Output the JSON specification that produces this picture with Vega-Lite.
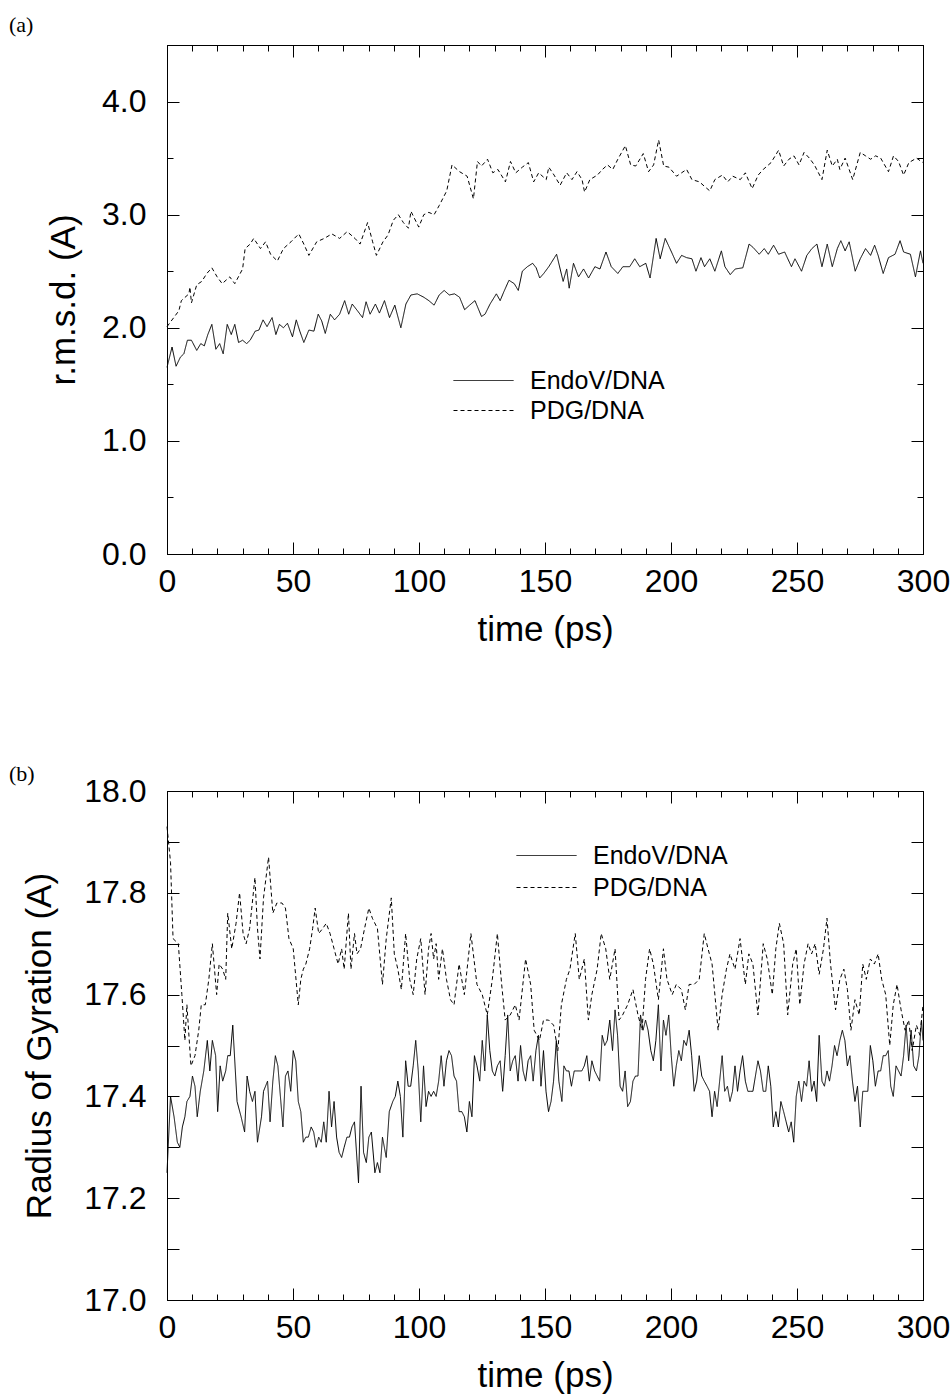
{
  "$schema": "https://vega.github.io/schema/vega-lite/v6.json",
  "padding": {"left": 8, "top": 13, "right": 0, "bottom": 0},
  "background": "white",
  "config": {
    "font": "Liberation Sans",
    "view": {"stroke": "black", "strokeWidth": 1},
    "axis": {
      "grid": false, "domainColor": "black", "tickColor": "black", "labelColor": "black", "titleColor": "black",
      "labelFont": "Liberation Sans", "titleFont": "Liberation Sans", "labelFontSize": 32, "titleFontSize": 35,
      "titleFontWeight": "normal", "domainWidth": 1, "tickWidth": 1, "labelFlush": false, "labelOverlap": false
    },
    "legend": {
      "orient": "none", "title": null, "symbolType": "M-2.5,0L2.5,0", "symbolSize": 576, "symbolStrokeWidth": 1,
      "symbolStrokeColor": "black", "symbolFillColor": "transparent", "labelFontSize": 25, "labelFont": "Liberation Sans",
      "labelColor": "black", "labelOffset": 34, "padding": 0
    }
  },
  "datasets": {
    "a_endo": [{"t":0,"v":1.65},{"t":2.0,"v":1.83},{"t":3.6,"v":1.66},{"t":5.3,"v":1.74},{"t":6.7,"v":1.77},{"t":8.1,"v":1.89},{"t":9.7,"v":1.89},{"t":11.8,"v":1.80},{"t":13.4,"v":1.86},{"t":14.8,"v":1.84},{"t":16.2,"v":1.94},{"t":17.8,"v":2.03},{"t":19.4,"v":1.81},{"t":20.9,"v":1.86},{"t":22.3,"v":1.77},{"t":23.9,"v":2.03},{"t":25.5,"v":1.94},{"t":26.9,"v":2.03},{"t":28.4,"v":1.87},{"t":30.0,"v":1.89},{"t":31.6,"v":1.86},{"t":33.0,"v":1.89},{"t":35.0,"v":1.97},{"t":36.5,"v":1.98},{"t":38.1,"v":2.07},{"t":39.7,"v":2.01},{"t":41.7,"v":2.09},{"t":43.2,"v":1.94},{"t":44.6,"v":2.03},{"t":46.2,"v":2.00},{"t":47.8,"v":2.04},{"t":49.8,"v":1.92},{"t":51.3,"v":2.07},{"t":52.7,"v":1.97},{"t":54.3,"v":1.87},{"t":56.3,"v":1.98},{"t":58.3,"v":1.97},{"t":60.0,"v":2.12},{"t":61.4,"v":2.06},{"t":62.8,"v":1.95},{"t":64.8,"v":2.12},{"t":66.5,"v":2.07},{"t":68.5,"v":2.12},{"t":70.5,"v":2.24},{"t":72.1,"v":2.12},{"t":73.5,"v":2.21},{"t":75.6,"v":2.15},{"t":77.6,"v":2.09},{"t":79.0,"v":2.23},{"t":80.6,"v":2.12},{"t":82.7,"v":2.21},{"t":84.3,"v":2.13},{"t":86.3,"v":2.24},{"t":88.3,"v":2.09},{"t":90.4,"v":2.20},{"t":92.8,"v":2.00},{"t":94.8,"v":2.21},{"t":96.8,"v":2.29},{"t":99.3,"v":2.30},{"t":101.9,"v":2.27},{"t":103.9,"v":2.24},{"t":106.0,"v":2.20},{"t":108.0,"v":2.29},{"t":110.0,"v":2.33},{"t":112.0,"v":2.29},{"t":114.1,"v":2.30},{"t":116.1,"v":2.27},{"t":118.1,"v":2.16},{"t":120.1,"v":2.20},{"t":122.2,"v":2.24},{"t":124.8,"v":2.10},{"t":126.2,"v":2.12},{"t":128.2,"v":2.21},{"t":130.7,"v":2.30},{"t":132.2,"v":2.24},{"t":133.7,"v":2.32},{"t":135.7,"v":2.42},{"t":137.8,"v":2.39},{"t":139.4,"v":2.33},{"t":141.0,"v":2.50},{"t":143.0,"v":2.54},{"t":145.1,"v":2.57},{"t":146.5,"v":2.53},{"t":147.9,"v":2.44},{"t":149.5,"v":2.48},{"t":151.5,"v":2.54},{"t":154.6,"v":2.65},{"t":157.2,"v":2.41},{"t":158.6,"v":2.52},{"t":159.6,"v":2.35},{"t":161.3,"v":2.57},{"t":163.3,"v":2.45},{"t":165.3,"v":2.52},{"t":167.3,"v":2.44},{"t":169.8,"v":2.54},{"t":171.8,"v":2.52},{"t":174.2,"v":2.67},{"t":176.3,"v":2.54},{"t":178.9,"v":2.48},{"t":180.9,"v":2.54},{"t":183.6,"v":2.54},{"t":185.6,"v":2.61},{"t":187.6,"v":2.54},{"t":190.0,"v":2.57},{"t":191.7,"v":2.44},{"t":194.1,"v":2.79},{"t":195.7,"v":2.61},{"t":197.7,"v":2.79},{"t":200.2,"v":2.67},{"t":202.2,"v":2.57},{"t":204.2,"v":2.64},{"t":206.2,"v":2.62},{"t":208.3,"v":2.61},{"t":209.9,"v":2.50},{"t":211.9,"v":2.62},{"t":213.3,"v":2.54},{"t":215.4,"v":2.61},{"t":217.4,"v":2.50},{"t":220.0,"v":2.68},{"t":221.4,"v":2.54},{"t":223.5,"v":2.47},{"t":225.5,"v":2.52},{"t":228.5,"v":2.53},{"t":231.0,"v":2.74},{"t":232.6,"v":2.71},{"t":235.0,"v":2.65},{"t":237.0,"v":2.70},{"t":238.6,"v":2.65},{"t":240.7,"v":2.73},{"t":242.7,"v":2.65},{"t":245.1,"v":2.67},{"t":247.8,"v":2.54},{"t":249.2,"v":2.61},{"t":251.8,"v":2.50},{"t":253.9,"v":2.64},{"t":255.9,"v":2.70},{"t":257.9,"v":2.74},{"t":259.9,"v":2.54},{"t":262.0,"v":2.74},{"t":264.0,"v":2.54},{"t":266.0,"v":2.70},{"t":267.4,"v":2.77},{"t":269.1,"v":2.68},{"t":270.7,"v":2.76},{"t":273.1,"v":2.50},{"t":275.1,"v":2.61},{"t":277.2,"v":2.70},{"t":279.2,"v":2.64},{"t":280.8,"v":2.73},{"t":282.2,"v":2.64},{"t":284.2,"v":2.48},{"t":286.3,"v":2.62},{"t":288.9,"v":2.65},{"t":290.9,"v":2.77},{"t":292.3,"v":2.67},{"t":295.0,"v":2.65},{"t":297.0,"v":2.45},{"t":299.0,"v":2.68},{"t":300,"v":2.57}],
    "a_pdg": [{"t":0,"v":2.01},{"t":4.7,"v":2.15},{"t":5.7,"v":2.24},{"t":8.7,"v":2.30},{"t":9.1,"v":2.36},{"t":9.7,"v":2.22},{"t":11.8,"v":2.38},{"t":13.8,"v":2.41},{"t":15.8,"v":2.48},{"t":17.8,"v":2.53},{"t":19.9,"v":2.45},{"t":21.9,"v":2.39},{"t":24.9,"v":2.45},{"t":26.9,"v":2.39},{"t":30.0,"v":2.52},{"t":31.0,"v":2.70},{"t":33.0,"v":2.74},{"t":34.4,"v":2.79},{"t":37.1,"v":2.70},{"t":39.1,"v":2.76},{"t":41.1,"v":2.65},{"t":43.8,"v":2.59},{"t":46.2,"v":2.70},{"t":49.2,"v":2.76},{"t":52.3,"v":2.83},{"t":54.3,"v":2.74},{"t":56.3,"v":2.64},{"t":59.4,"v":2.76},{"t":62.4,"v":2.79},{"t":65.4,"v":2.83},{"t":68.5,"v":2.79},{"t":71.5,"v":2.85},{"t":74.6,"v":2.79},{"t":76.6,"v":2.74},{"t":79.6,"v":2.93},{"t":81.6,"v":2.76},{"t":83.1,"v":2.64},{"t":85.7,"v":2.76},{"t":87.7,"v":2.82},{"t":89.8,"v":2.95},{"t":91.8,"v":3.00},{"t":93.8,"v":2.93},{"t":95.8,"v":2.88},{"t":96.8,"v":3.03},{"t":99.9,"v":2.89},{"t":101.9,"v":3.00},{"t":103.9,"v":3.02},{"t":106.0,"v":3.00},{"t":108.0,"v":3.08},{"t":111.0,"v":3.21},{"t":113.1,"v":3.44},{"t":116.1,"v":3.38},{"t":119.1,"v":3.34},{"t":121.6,"v":3.14},{"t":123.2,"v":3.47},{"t":124.8,"v":3.43},{"t":127.2,"v":3.49},{"t":129.3,"v":3.37},{"t":131.3,"v":3.40},{"t":134.3,"v":3.29},{"t":136.3,"v":3.47},{"t":138.4,"v":3.37},{"t":141.0,"v":3.42},{"t":143.4,"v":3.46},{"t":145.5,"v":3.29},{"t":147.5,"v":3.37},{"t":150.5,"v":3.31},{"t":151.5,"v":3.42},{"t":153.6,"v":3.35},{"t":156.0,"v":3.26},{"t":158.6,"v":3.37},{"t":160.7,"v":3.31},{"t":162.7,"v":3.38},{"t":164.7,"v":3.31},{"t":165.7,"v":3.20},{"t":167.8,"v":3.31},{"t":170.8,"v":3.35},{"t":172.8,"v":3.40},{"t":174.8,"v":3.44},{"t":176.9,"v":3.40},{"t":178.9,"v":3.49},{"t":181.9,"v":3.61},{"t":184.0,"v":3.44},{"t":186.0,"v":3.43},{"t":189.0,"v":3.54},{"t":191.1,"v":3.38},{"t":193.1,"v":3.44},{"t":195.1,"v":3.66},{"t":197.1,"v":3.43},{"t":199.2,"v":3.42},{"t":202.2,"v":3.34},{"t":204.2,"v":3.37},{"t":206.2,"v":3.40},{"t":208.3,"v":3.31},{"t":211.3,"v":3.29},{"t":213.3,"v":3.25},{"t":215.4,"v":3.21},{"t":217.4,"v":3.31},{"t":220.4,"v":3.35},{"t":222.5,"v":3.29},{"t":224.5,"v":3.34},{"t":227.5,"v":3.31},{"t":229.5,"v":3.37},{"t":232.2,"v":3.23},{"t":234.6,"v":3.35},{"t":236.6,"v":3.40},{"t":239.7,"v":3.46},{"t":242.7,"v":3.57},{"t":244.7,"v":3.43},{"t":246.8,"v":3.49},{"t":248.8,"v":3.52},{"t":250.8,"v":3.44},{"t":252.8,"v":3.55},{"t":254.9,"v":3.50},{"t":256.9,"v":3.44},{"t":259.9,"v":3.31},{"t":262.0,"v":3.57},{"t":264.0,"v":3.43},{"t":266.0,"v":3.49},{"t":267.0,"v":3.40},{"t":269.1,"v":3.50},{"t":272.1,"v":3.31},{"t":275.1,"v":3.55},{"t":277.2,"v":3.52},{"t":279.2,"v":3.49},{"t":281.2,"v":3.52},{"t":283.2,"v":3.50},{"t":286.3,"v":3.38},{"t":288.3,"v":3.52},{"t":290.3,"v":3.47},{"t":292.3,"v":3.35},{"t":294.4,"v":3.46},{"t":297.4,"v":3.50},{"t":300,"v":3.46}],
    "b_endo": [{"t":0,"v":17.25},{"t":1.4,"v":17.40},{"t":2.8,"v":17.36},{"t":4.1,"v":17.31},{"t":5.1,"v":17.30},{"t":6.1,"v":17.34},{"t":7.1,"v":17.36},{"t":7.9,"v":17.39},{"t":9.1,"v":17.40},{"t":10.1,"v":17.44},{"t":11.1,"v":17.42},{"t":12.0,"v":17.36},{"t":13.2,"v":17.41},{"t":14.6,"v":17.45},{"t":16.0,"v":17.51},{"t":17.0,"v":17.45},{"t":18.0,"v":17.51},{"t":19.3,"v":17.48},{"t":20.1,"v":17.37},{"t":21.1,"v":17.46},{"t":22.1,"v":17.43},{"t":23.3,"v":17.45},{"t":24.1,"v":17.48},{"t":25.1,"v":17.48},{"t":26.1,"v":17.54},{"t":27.8,"v":17.39},{"t":29.4,"v":17.36},{"t":30.8,"v":17.33},{"t":31.8,"v":17.44},{"t":32.8,"v":17.41},{"t":33.9,"v":17.39},{"t":34.9,"v":17.41},{"t":35.9,"v":17.31},{"t":37.5,"v":17.36},{"t":38.3,"v":17.41},{"t":39.9,"v":17.43},{"t":40.9,"v":17.35},{"t":42.0,"v":17.43},{"t":43.0,"v":17.48},{"t":44.0,"v":17.46},{"t":45.0,"v":17.40},{"t":46.0,"v":17.34},{"t":47.0,"v":17.44},{"t":48.0,"v":17.45},{"t":49.1,"v":17.41},{"t":50.1,"v":17.49},{"t":51.1,"v":17.47},{"t":52.1,"v":17.39},{"t":53.1,"v":17.37},{"t":54.1,"v":17.31},{"t":55.1,"v":17.32},{"t":56.1,"v":17.32},{"t":57.2,"v":17.34},{"t":58.2,"v":17.33},{"t":59.2,"v":17.30},{"t":60.2,"v":17.32},{"t":61.2,"v":17.31},{"t":62.2,"v":17.35},{"t":63.2,"v":17.31},{"t":64.3,"v":17.41},{"t":65.3,"v":17.34},{"t":66.3,"v":17.39},{"t":67.3,"v":17.32},{"t":68.3,"v":17.29},{"t":69.3,"v":17.28},{"t":70.3,"v":17.30},{"t":71.4,"v":17.32},{"t":72.4,"v":17.32},{"t":73.4,"v":17.34},{"t":74.4,"v":17.35},{"t":76.0,"v":17.23},{"t":77.0,"v":17.42},{"t":78.0,"v":17.29},{"t":79.1,"v":17.27},{"t":80.1,"v":17.32},{"t":81.1,"v":17.33},{"t":82.5,"v":17.25},{"t":83.5,"v":17.27},{"t":84.5,"v":17.25},{"t":85.5,"v":17.32},{"t":87.0,"v":17.28},{"t":88.2,"v":17.37},{"t":89.6,"v":17.39},{"t":90.6,"v":17.40},{"t":91.6,"v":17.43},{"t":92.6,"v":17.40},{"t":93.6,"v":17.32},{"t":94.7,"v":17.47},{"t":95.7,"v":17.42},{"t":96.7,"v":17.42},{"t":97.7,"v":17.46},{"t":98.7,"v":17.51},{"t":99.7,"v":17.45},{"t":100.7,"v":17.35},{"t":101.8,"v":17.46},{"t":102.8,"v":17.38},{"t":103.8,"v":17.41},{"t":104.8,"v":17.40},{"t":105.8,"v":17.41},{"t":106.8,"v":17.40},{"t":107.8,"v":17.43},{"t":108.8,"v":17.48},{"t":109.9,"v":17.42},{"t":110.9,"v":17.47},{"t":111.9,"v":17.49},{"t":112.9,"v":17.48},{"t":113.9,"v":17.44},{"t":114.9,"v":17.43},{"t":115.9,"v":17.37},{"t":117.0,"v":17.37},{"t":118.0,"v":17.36},{"t":119.0,"v":17.33},{"t":120.0,"v":17.39},{"t":121.0,"v":17.36},{"t":122.0,"v":17.48},{"t":123.0,"v":17.46},{"t":124.1,"v":17.43},{"t":125.1,"v":17.51},{"t":126.1,"v":17.45},{"t":127.1,"v":17.56},{"t":128.1,"v":17.49},{"t":129.1,"v":17.45},{"t":130.1,"v":17.44},{"t":131.1,"v":17.46},{"t":132.2,"v":17.47},{"t":133.2,"v":17.41},{"t":134.2,"v":17.48},{"t":135.2,"v":17.56},{"t":136.2,"v":17.45},{"t":137.2,"v":17.47},{"t":138.2,"v":17.48},{"t":139.3,"v":17.43},{"t":140.3,"v":17.50},{"t":141.3,"v":17.45},{"t":142.3,"v":17.43},{"t":143.3,"v":17.47},{"t":144.3,"v":17.48},{"t":145.3,"v":17.43},{"t":146.4,"v":17.49},{"t":147.4,"v":17.52},{"t":148.4,"v":17.42},{"t":149.4,"v":17.49},{"t":150.4,"v":17.41},{"t":151.4,"v":17.37},{"t":152.4,"v":17.39},{"t":153.4,"v":17.43},{"t":154.5,"v":17.51},{"t":155.5,"v":17.43},{"t":156.7,"v":17.39},{"t":157.5,"v":17.46},{"t":158.5,"v":17.45},{"t":159.5,"v":17.45},{"t":160.5,"v":17.42},{"t":161.6,"v":17.45},{"t":162.6,"v":17.45},{"t":163.6,"v":17.45},{"t":164.6,"v":17.45},{"t":165.6,"v":17.46},{"t":166.6,"v":17.48},{"t":167.6,"v":17.43},{"t":168.6,"v":17.47},{"t":169.7,"v":17.45},{"t":170.7,"v":17.44},{"t":171.7,"v":17.43},{"t":172.7,"v":17.52},{"t":173.7,"v":17.50},{"t":174.7,"v":17.51},{"t":175.7,"v":17.55},{"t":176.8,"v":17.49},{"t":177.8,"v":17.57},{"t":178.8,"v":17.52},{"t":179.8,"v":17.42},{"t":180.8,"v":17.41},{"t":181.8,"v":17.45},{"t":182.8,"v":17.38},{"t":183.9,"v":17.39},{"t":184.9,"v":17.43},{"t":185.9,"v":17.44},{"t":186.9,"v":17.44},{"t":187.9,"v":17.56},{"t":188.9,"v":17.53},{"t":189.9,"v":17.55},{"t":190.9,"v":17.53},{"t":192.0,"v":17.49},{"t":193.0,"v":17.47},{"t":194.0,"v":17.51},{"t":195.0,"v":17.58},{"t":196.0,"v":17.45},{"t":197.0,"v":17.55},{"t":198.0,"v":17.52},{"t":199.1,"v":17.56},{"t":200.1,"v":17.48},{"t":201.1,"v":17.42},{"t":202.1,"v":17.46},{"t":203.1,"v":17.49},{"t":204.1,"v":17.47},{"t":205.1,"v":17.51},{"t":206.1,"v":17.50},{"t":207.2,"v":17.53},{"t":208.2,"v":17.48},{"t":209.2,"v":17.41},{"t":210.2,"v":17.43},{"t":211.2,"v":17.48},{"t":212.2,"v":17.44},{"t":213.2,"v":17.43},{"t":214.3,"v":17.42},{"t":215.3,"v":17.41},{"t":216.3,"v":17.36},{"t":217.3,"v":17.41},{"t":218.3,"v":17.38},{"t":219.3,"v":17.43},{"t":220.3,"v":17.48},{"t":221.3,"v":17.41},{"t":222.4,"v":17.42},{"t":223.4,"v":17.39},{"t":224.4,"v":17.41},{"t":225.4,"v":17.46},{"t":226.4,"v":17.41},{"t":227.4,"v":17.45},{"t":228.4,"v":17.48},{"t":229.5,"v":17.43},{"t":230.5,"v":17.41},{"t":231.5,"v":17.41},{"t":232.5,"v":17.41},{"t":233.5,"v":17.44},{"t":234.5,"v":17.47},{"t":235.5,"v":17.45},{"t":236.6,"v":17.41},{"t":237.6,"v":17.41},{"t":238.6,"v":17.46},{"t":239.6,"v":17.42},{"t":240.6,"v":17.34},{"t":241.6,"v":17.37},{"t":242.6,"v":17.34},{"t":243.6,"v":17.39},{"t":244.7,"v":17.37},{"t":245.7,"v":17.35},{"t":246.7,"v":17.33},{"t":247.7,"v":17.35},{"t":248.7,"v":17.31},{"t":249.7,"v":17.40},{"t":250.7,"v":17.43},{"t":251.8,"v":17.39},{"t":252.8,"v":17.43},{"t":253.8,"v":17.42},{"t":254.8,"v":17.47},{"t":255.8,"v":17.41},{"t":256.8,"v":17.43},{"t":257.8,"v":17.39},{"t":258.8,"v":17.52},{"t":259.9,"v":17.43},{"t":260.9,"v":17.42},{"t":261.9,"v":17.45},{"t":262.9,"v":17.43},{"t":263.9,"v":17.46},{"t":264.9,"v":17.50},{"t":265.9,"v":17.48},{"t":267.0,"v":17.51},{"t":268.0,"v":17.53},{"t":269.0,"v":17.51},{"t":270.0,"v":17.46},{"t":271.0,"v":17.48},{"t":272.0,"v":17.43},{"t":273.0,"v":17.39},{"t":274.0,"v":17.42},{"t":275.1,"v":17.34},{"t":276.1,"v":17.41},{"t":277.1,"v":17.41},{"t":278.1,"v":17.41},{"t":279.1,"v":17.50},{"t":280.1,"v":17.47},{"t":281.1,"v":17.42},{"t":282.2,"v":17.45},{"t":283.2,"v":17.45},{"t":284.2,"v":17.48},{"t":285.2,"v":17.48},{"t":286.2,"v":17.49},{"t":287.2,"v":17.42},{"t":288.2,"v":17.40},{"t":289.3,"v":17.46},{"t":290.3,"v":17.45},{"t":291.3,"v":17.44},{"t":292.3,"v":17.48},{"t":293.3,"v":17.54},{"t":294.3,"v":17.47},{"t":295.3,"v":17.53},{"t":296.3,"v":17.46},{"t":297.4,"v":17.45},{"t":298.4,"v":17.48},{"t":299.4,"v":17.55},{"t":300,"v":17.51}],
    "b_pdg": [{"t":0,"v":17.93},{"t":1.4,"v":17.86},{"t":2.4,"v":17.71},{"t":4.5,"v":17.70},{"t":5.9,"v":17.60},{"t":7.1,"v":17.51},{"t":7.9,"v":17.58},{"t":9.5,"v":17.46},{"t":11.1,"v":17.48},{"t":12.6,"v":17.53},{"t":13.6,"v":17.58},{"t":15.2,"v":17.58},{"t":16.6,"v":17.63},{"t":18.0,"v":17.70},{"t":19.7,"v":17.60},{"t":20.7,"v":17.66},{"t":22.1,"v":17.65},{"t":23.3,"v":17.63},{"t":24.1,"v":17.76},{"t":25.7,"v":17.69},{"t":27.4,"v":17.74},{"t":28.8,"v":17.80},{"t":30.2,"v":17.72},{"t":31.4,"v":17.70},{"t":32.8,"v":17.73},{"t":34.9,"v":17.83},{"t":35.9,"v":17.73},{"t":36.9,"v":17.67},{"t":38.3,"v":17.79},{"t":40.3,"v":17.87},{"t":42.0,"v":17.76},{"t":43.6,"v":17.78},{"t":45.6,"v":17.78},{"t":47.0,"v":17.77},{"t":48.4,"v":17.71},{"t":50.1,"v":17.69},{"t":52.1,"v":17.58},{"t":53.1,"v":17.63},{"t":54.1,"v":17.65},{"t":55.1,"v":17.66},{"t":56.6,"v":17.69},{"t":57.8,"v":17.73},{"t":58.8,"v":17.77},{"t":60.2,"v":17.72},{"t":61.8,"v":17.73},{"t":63.2,"v":17.74},{"t":64.7,"v":17.72},{"t":66.3,"v":17.69},{"t":67.9,"v":17.66},{"t":69.3,"v":17.69},{"t":70.3,"v":17.65},{"t":72.0,"v":17.76},{"t":73.0,"v":17.65},{"t":74.4,"v":17.72},{"t":75.4,"v":17.68},{"t":76.8,"v":17.69},{"t":78.4,"v":17.73},{"t":80.1,"v":17.77},{"t":81.5,"v":17.75},{"t":83.5,"v":17.73},{"t":85.5,"v":17.62},{"t":87.0,"v":17.71},{"t":89.0,"v":17.79},{"t":90.2,"v":17.68},{"t":91.6,"v":17.65},{"t":93.0,"v":17.61},{"t":94.7,"v":17.72},{"t":96.3,"v":17.63},{"t":97.7,"v":17.60},{"t":99.1,"v":17.67},{"t":100.7,"v":17.71},{"t":102.4,"v":17.60},{"t":103.8,"v":17.69},{"t":104.8,"v":17.72},{"t":105.8,"v":17.67},{"t":106.8,"v":17.70},{"t":107.8,"v":17.63},{"t":109.3,"v":17.69},{"t":110.9,"v":17.63},{"t":112.5,"v":17.59},{"t":113.9,"v":17.58},{"t":115.9,"v":17.66},{"t":118.0,"v":17.60},{"t":120.6,"v":17.72},{"t":123.0,"v":17.62},{"t":125.1,"v":17.60},{"t":127.1,"v":17.56},{"t":129.1,"v":17.63},{"t":131.1,"v":17.72},{"t":132.8,"v":17.62},{"t":134.2,"v":17.55},{"t":136.2,"v":17.56},{"t":138.2,"v":17.58},{"t":139.7,"v":17.55},{"t":142.3,"v":17.67},{"t":144.3,"v":17.62},{"t":145.7,"v":17.53},{"t":147.8,"v":17.51},{"t":149.4,"v":17.55},{"t":151.4,"v":17.55},{"t":153.4,"v":17.54},{"t":155.1,"v":17.49},{"t":156.5,"v":17.58},{"t":158.5,"v":17.63},{"t":159.9,"v":17.65},{"t":162.0,"v":17.72},{"t":163.6,"v":17.63},{"t":165.6,"v":17.67},{"t":167.2,"v":17.55},{"t":168.6,"v":17.60},{"t":170.7,"v":17.65},{"t":172.3,"v":17.72},{"t":174.1,"v":17.69},{"t":175.7,"v":17.63},{"t":177.8,"v":17.69},{"t":179.4,"v":17.55},{"t":180.8,"v":17.56},{"t":182.8,"v":17.58},{"t":184.9,"v":17.61},{"t":186.9,"v":17.56},{"t":188.5,"v":17.53},{"t":189.9,"v":17.63},{"t":191.5,"v":17.69},{"t":193.0,"v":17.66},{"t":195.0,"v":17.59},{"t":197.0,"v":17.69},{"t":198.4,"v":17.63},{"t":200.5,"v":17.60},{"t":202.1,"v":17.62},{"t":204.1,"v":17.61},{"t":205.7,"v":17.57},{"t":207.2,"v":17.62},{"t":209.2,"v":17.62},{"t":211.2,"v":17.63},{"t":213.2,"v":17.72},{"t":214.7,"v":17.69},{"t":216.3,"v":17.66},{"t":218.7,"v":17.53},{"t":220.3,"v":17.60},{"t":222.0,"v":17.65},{"t":223.4,"v":17.68},{"t":225.4,"v":17.65},{"t":227.4,"v":17.71},{"t":229.5,"v":17.62},{"t":230.9,"v":17.68},{"t":232.5,"v":17.66},{"t":234.5,"v":17.56},{"t":236.6,"v":17.70},{"t":238.2,"v":17.67},{"t":240.2,"v":17.60},{"t":241.6,"v":17.69},{"t":243.0,"v":17.74},{"t":244.7,"v":17.70},{"t":246.3,"v":17.56},{"t":248.3,"v":17.66},{"t":249.7,"v":17.69},{"t":251.1,"v":17.58},{"t":252.8,"v":17.66},{"t":254.4,"v":17.70},{"t":255.8,"v":17.68},{"t":257.2,"v":17.70},{"t":258.8,"v":17.64},{"t":260.5,"v":17.69},{"t":261.9,"v":17.75},{"t":263.3,"v":17.66},{"t":265.3,"v":17.57},{"t":267.0,"v":17.63},{"t":268.6,"v":17.65},{"t":270.0,"v":17.61},{"t":271.4,"v":17.53},{"t":273.0,"v":17.59},{"t":274.7,"v":17.56},{"t":276.1,"v":17.66},{"t":277.5,"v":17.63},{"t":279.1,"v":17.67},{"t":280.7,"v":17.66},{"t":282.2,"v":17.68},{"t":283.6,"v":17.63},{"t":285.2,"v":17.60},{"t":286.8,"v":17.50},{"t":288.2,"v":17.58},{"t":289.7,"v":17.62},{"t":291.3,"v":17.57},{"t":292.9,"v":17.53},{"t":294.3,"v":17.55},{"t":295.7,"v":17.49},{"t":297.4,"v":17.54},{"t":298.8,"v":17.52},{"t":300,"v":17.58}]
  },
  "spacing": 114,
  "resolve": {"scale": {"x": "independent", "y": "independent", "strokeDash": "independent"}, "legend": {"strokeDash": "independent"}},
  "vconcat": [
    {
      "width": 756, "height": 509,
      "title": {"text": "(a)", "anchor": "start", "frame": "group", "dx": -158, "offset": -8, "font": "Liberation Serif", "fontSize": 22, "fontWeight": "normal", "color": "black"},
      "resolve": {"axis": {"x": "independent", "y": "independent"}},
      "layer": [
        {
          "data": {"name": "a_endo"},
          "mark": {"type": "line", "color": "black", "strokeWidth": 1},
          "encoding": {
            "x": {"field": "t", "type": "quantitative", "scale": {"domain": [0, 300], "nice": false, "zero": false},
              "axis": {"orient": "bottom", "values": [0,10,20,30,40,50,60,70,80,90,100,110,120,130,140,150,160,170,180,190,200,210,220,230,240,250,260,270,280,290,300],
                "labelExpr": "datum.value % 50 === 0 ? datum.label : ''",
                "tickSize": {"condition": {"test": "datum.value % 50 === 0", "value": -12}, "value": -6},
                "labelPadding": 24, "title": "time (ps)", "titlePadding": 9}},
            "y": {"field": "v", "type": "quantitative", "scale": {"domain": [0, 4.5], "nice": false, "zero": false},
              "axis": {"orient": "left", "values": [0,0.5,1,1.5,2,2.5,3,3.5,4,4.5], "format": ".1f",
                "labelExpr": "datum.value % 1 === 0 ? datum.label : ''",
                "tickSize": {"condition": {"test": "datum.value % 1 === 0", "value": -12}, "value": -6},
                "labelPadding": 33, "title": "r.m.s.d. (A)", "titlePadding": 20}},
            "strokeDash": {"datum": "EndoV/DNA", "type": "nominal",
              "scale": {"domain": ["EndoV/DNA", "PDG/DNA"], "range": [[1, 0], [4, 3]]},
              "legend": {"legendX": 304, "legendY": 323, "rowPadding": 4}}
          }
        },
        {
          "data": {"name": "a_pdg"},
          "mark": {"type": "line", "color": "black", "strokeWidth": 1},
          "encoding": {
            "x": {"field": "t", "type": "quantitative", "scale": {"domain": [0, 300], "nice": false, "zero": false},
              "axis": {"orient": "top", "values": [0,10,20,30,40,50,60,70,80,90,100,110,120,130,140,150,160,170,180,190,200,210,220,230,240,250,260,270,280,290,300],
                "labels": false, "title": null,
                "tickSize": {"condition": {"test": "datum.value % 50 === 0", "value": -12}, "value": -6}}},
            "y": {"field": "v", "type": "quantitative", "scale": {"domain": [0, 4.5], "nice": false, "zero": false},
              "axis": {"orient": "right", "values": [0,0.5,1,1.5,2,2.5,3,3.5,4,4.5], "labels": false, "title": null,
                "tickSize": {"condition": {"test": "datum.value % 1 === 0", "value": -12}, "value": -6}}},
            "strokeDash": {"datum": "PDG/DNA", "type": "nominal",
              "scale": {"domain": ["EndoV/DNA", "PDG/DNA"], "range": [[1, 0], [4, 3]]}}
          }
        }
      ]
    },
    {
      "width": 756, "height": 509,
      "title": {"text": "(b)", "anchor": "start", "frame": "group", "dx": -158, "offset": 0, "dy": 11, "font": "Liberation Serif", "fontSize": 22, "fontWeight": "normal", "color": "black"},
      "resolve": {"axis": {"x": "independent", "y": "independent"}},
      "layer": [
        {
          "data": {"name": "b_endo"},
          "mark": {"type": "line", "color": "black", "strokeWidth": 1},
          "encoding": {
            "x": {"field": "t", "type": "quantitative", "scale": {"domain": [0, 300], "nice": false, "zero": false},
              "axis": {"orient": "bottom", "values": [0,10,20,30,40,50,60,70,80,90,100,110,120,130,140,150,160,170,180,190,200,210,220,230,240,250,260,270,280,290,300],
                "labelExpr": "datum.value % 50 === 0 ? datum.label : ''",
                "tickSize": {"condition": {"test": "datum.value % 50 === 0", "value": -12}, "value": -6},
                "labelPadding": 24, "title": "time (ps)", "titlePadding": 9}},
            "y": {"field": "v", "type": "quantitative", "scale": {"domain": [17, 18], "nice": false, "zero": false},
              "axis": {"orient": "left", "values": [17,17.1,17.2,17.3,17.4,17.5,17.6,17.7,17.8,17.9,18], "format": ".1f",
                "labelExpr": "round(datum.value * 10) % 2 === 0 ? datum.label : ''",
                "tickSize": -12,
                "labelPadding": 33, "title": "Radius of Gyration (A)", "titlePadding": 26}},
            "strokeDash": {"datum": "EndoV/DNA", "type": "nominal",
              "scale": {"domain": ["EndoV/DNA", "PDG/DNA"], "range": [[1, 0], [4, 3]]},
              "legend": {"legendX": 367, "legendY": 52, "rowPadding": 6}}
          }
        },
        {
          "data": {"name": "b_pdg"},
          "mark": {"type": "line", "color": "black", "strokeWidth": 1},
          "encoding": {
            "x": {"field": "t", "type": "quantitative", "scale": {"domain": [0, 300], "nice": false, "zero": false},
              "axis": {"orient": "top", "values": [0,10,20,30,40,50,60,70,80,90,100,110,120,130,140,150,160,170,180,190,200,210,220,230,240,250,260,270,280,290,300],
                "labels": false, "title": null,
                "tickSize": {"condition": {"test": "datum.value % 50 === 0", "value": -12}, "value": -6}}},
            "y": {"field": "v", "type": "quantitative", "scale": {"domain": [17, 18], "nice": false, "zero": false},
              "axis": {"orient": "right", "values": [17,17.1,17.2,17.3,17.4,17.5,17.6,17.7,17.8,17.9,18], "labels": false, "title": null,
                "tickSize": -12}},
            "strokeDash": {"datum": "PDG/DNA", "type": "nominal",
              "scale": {"domain": ["EndoV/DNA", "PDG/DNA"], "range": [[1, 0], [4, 3]]}}
          }
        }
      ]
    }
  ]
}
